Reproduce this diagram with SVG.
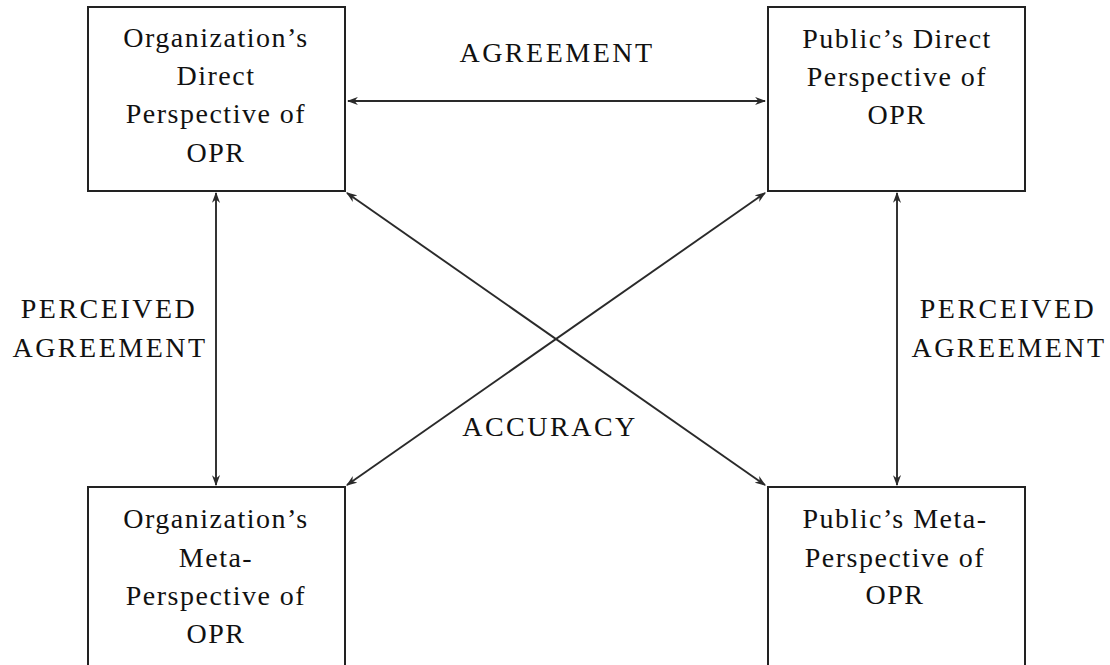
<svg xmlns="http://www.w3.org/2000/svg" width="1110" height="665" viewBox="0 0 1110 665">
  <style>
    .box { fill: #ffffff; stroke: #222222; stroke-width: 2; }
    .t { font-family: "Liberation Serif", "Times New Roman", serif; font-size: 28px; fill: #111111; text-anchor: middle; letter-spacing: 1.5px; }
    .cap { font-family: "Liberation Serif", "Times New Roman", serif; font-size: 28px; fill: #111111; text-anchor: middle; letter-spacing: 2.5px; }
    .conn { stroke: #2a2a2a; stroke-width: 1.9; fill: none; marker-start: url(#ah); marker-end: url(#ah); }
  </style>
  <defs>
    <marker id="ah" viewBox="0 0 10 8" refX="9" refY="4" markerWidth="11" markerHeight="9" markerUnits="userSpaceOnUse" orient="auto-start-reverse">
      <path d="M0,0.3 L10,4 L0,7.7 L3,4 Z" fill="#2a2a2a"/>
    </marker>
  </defs>
  <rect width="1110" height="665" fill="#ffffff"/>

  <g id="connectors">
    <line class="conn" x1="348" y1="101" x2="765" y2="101"/>
    <line class="conn" x1="216" y1="193" x2="216" y2="485"/>
    <line class="conn" x1="897" y1="193" x2="897" y2="485"/>
    <line class="conn" x1="347" y1="193" x2="765" y2="485"/>
    <line class="conn" x1="765" y1="193" x2="347" y2="485"/>
  </g>

  <g id="labels">
    <text class="cap" x="557" y="62">AGREEMENT</text>
    <text class="cap" x="109" y="318">PERCEIVED</text>
    <text class="cap" x="110" y="357">AGREEMENT</text>
    <text class="cap" x="1008" y="318">PERCEIVED</text>
    <text class="cap" x="1009" y="357">AGREEMENT</text>
    <text class="cap" x="550" y="436">ACCURACY</text>
  </g>

  <g id="org-direct">
    <rect class="box" x="88" y="7" width="257" height="184"/>
    <text class="t" x="216" y="47">Organization’s</text>
    <text class="t" x="216" y="85">Direct</text>
    <text class="t" x="216" y="123">Perspective of</text>
    <text class="t" x="216" y="162">OPR</text>
  </g>

  <g id="public-direct">
    <rect class="box" x="768" y="7" width="257" height="184"/>
    <text class="t" x="897" y="48">Public’s Direct</text>
    <text class="t" x="897" y="86">Perspective of</text>
    <text class="t" x="897" y="124">OPR</text>
  </g>

  <g id="org-meta">
    <rect class="box" x="88" y="487" width="257" height="200"/>
    <text class="t" x="216" y="528">Organization’s</text>
    <text class="t" x="216" y="567">Meta-</text>
    <text class="t" x="216" y="605">Perspective of</text>
    <text class="t" x="216" y="643">OPR</text>
  </g>

  <g id="public-meta">
    <rect class="box" x="768" y="487" width="257" height="200"/>
    <text class="t" x="895" y="528">Public’s Meta-</text>
    <text class="t" x="895" y="567">Perspective of</text>
    <text class="t" x="895" y="604">OPR</text>
  </g>
</svg>
